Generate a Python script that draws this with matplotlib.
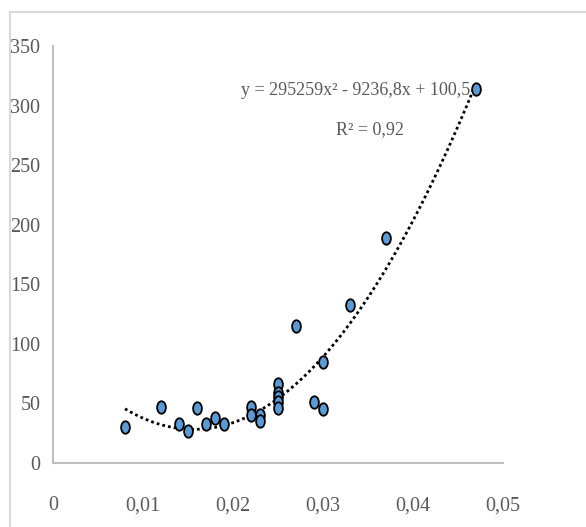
import numpy as np
import matplotlib.pyplot as plt
from matplotlib.path import Path
from matplotlib.patches import Rectangle

# data
x = [0.008, 0.012, 0.014, 0.015, 0.016, 0.017, 0.018, 0.019,
     0.022, 0.022, 0.023, 0.023, 0.025, 0.025, 0.025, 0.025, 0.025,
     0.027, 0.029, 0.030, 0.030, 0.033, 0.037, 0.047]
y = [30, 47, 33, 27, 46, 33, 38, 33,
     47, 40, 40, 35, 66, 59, 55, 51, 46,
     115, 51, 85, 45, 133, 189, 314]

# polynomial trend (Excel, order 2)
coef = [295259, -9236.8, 100.5]

xticks = [0, 0.01, 0.02, 0.03, 0.04, 0.05]
yticks = [0, 50, 100, 150, 200, 250, 300, 350]

plt.rcParams['font.family'] = ['Liberation Serif', 'DejaVu Serif']
grey = '#595959'

fig = plt.figure(figsize=(5.86, 5.27), dpi=100)
ax = fig.add_axes([0.0904, 0.1214, 0.768, 0.7913])

# outer chart frame (cropped on right/bottom)
fig.patches.append(Rectangle((10 / 586, -0.1), 1.2, 1 - 12 / 527 + 0.1,
                             transform=fig.transFigure, fill=False,
                             edgecolor='#d9d9d9', linewidth=1.5))

xs = np.linspace(min(x), max(x), 200)
ax.plot(xs, np.polyval(coef, xs), color='black', linestyle=(0, (1, 1.1)),
        linewidth=2.0, zorder=2)

# slightly tall oval marker like the reference
circ = Path.unit_circle()
oval = Path(circ.vertices * [0.7, 1.0], circ.codes)
ax.plot(x, y, linestyle='none', marker=oval, markersize=9,
        markerfacecolor='#5B9BD5', markeredgecolor='black', markeredgewidth=1.3, zorder=3)

ax.text(0.0464, 313, 'y = 295259x² - 9236,8x + 100,5', fontsize=13,
        color=grey, ha='right', va='center')
ax.text(0.0352, 280, 'R² = 0,92', fontsize=13, color=grey, ha='center', va='center')

ax.set_xlim(0, 0.05)
ax.set_ylim(0, 350)
ax.set_xticks(xticks)
ax.set_xticklabels(['0' if t == 0 else ('%.2f' % t).replace('.', ',') for t in xticks])
ax.set_yticks(yticks)
ax.tick_params(length=0, labelsize=14.5, colors=grey)
ax.tick_params(axis='x', pad=24)
ax.tick_params(axis='y', pad=9)

for s in ['top', 'right']:
    ax.spines[s].set_visible(False)
for s in ['left', 'bottom']:
    ax.spines[s].set_color('#bfbfbf')
    ax.spines[s].set_linewidth(1.5)

fig.savefig('out.png', dpi=100)
